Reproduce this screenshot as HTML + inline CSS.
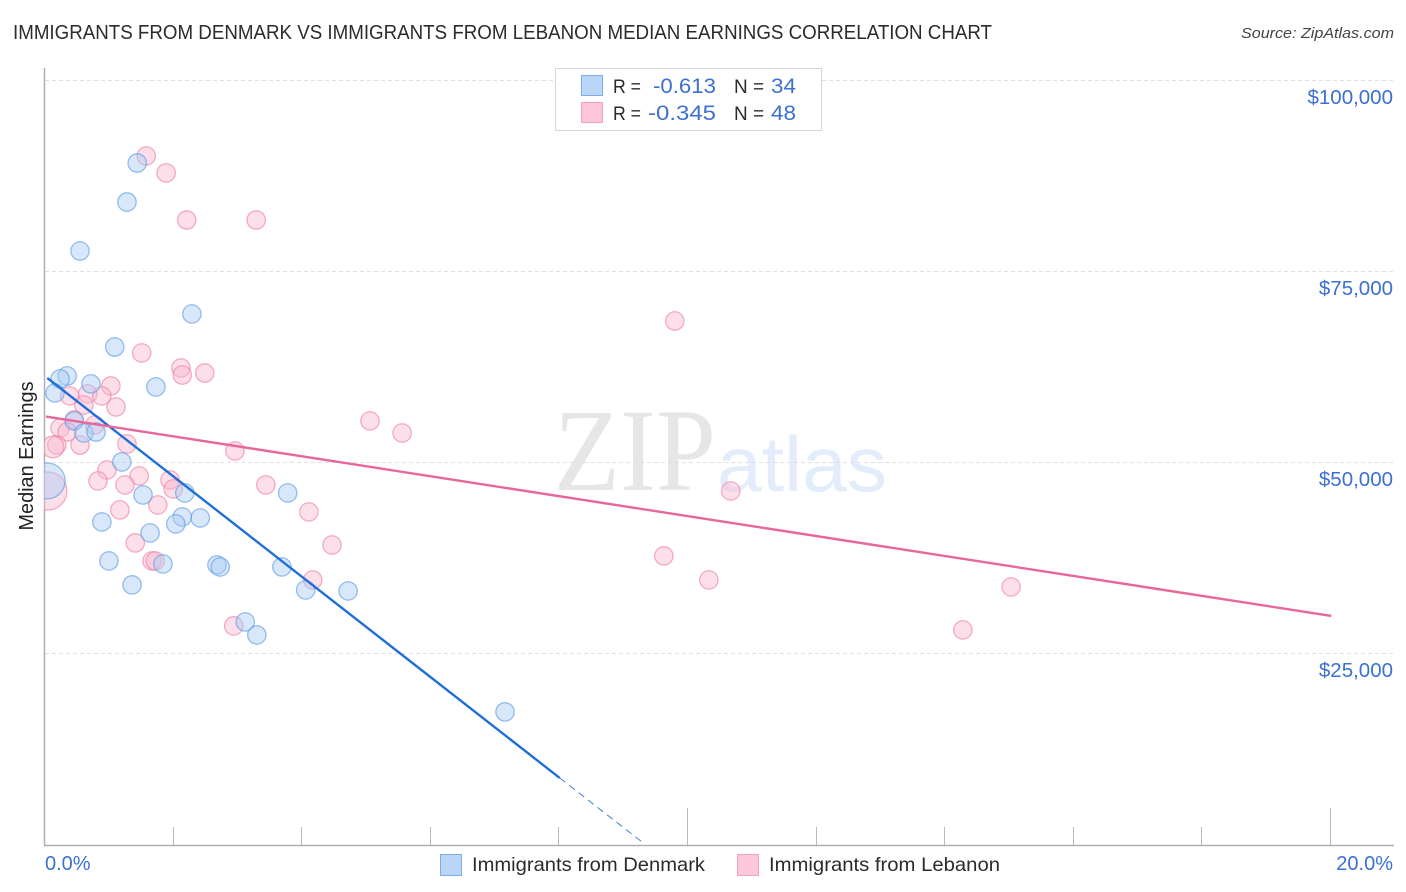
<!DOCTYPE html>
<html lang="en">
<head>
<meta charset="utf-8">
<title>Immigrants from Denmark vs Immigrants from Lebanon Median Earnings Correlation Chart</title>
<style>
html,body{margin:0;padding:0;background:#fff;width:1406px;height:892px;overflow:hidden}
svg{display:block;font-family:"Liberation Sans",sans-serif}
</style>
</head>
<body>
<svg id="chart" xmlns="http://www.w3.org/2000/svg" width="1406" height="892" viewBox="0 0 1406 892">
  <defs><clipPath id="plot-clip"><rect x="44" y="60" width="1350" height="785"/></clipPath></defs>
  <text x="13" y="39" font-size="20" fill="#2b2b2b" textLength="979" lengthAdjust="spacingAndGlyphs">IMMIGRANTS FROM DENMARK VS IMMIGRANTS FROM LEBANON MEDIAN EARNINGS CORRELATION CHART</text>
  <text x="1394" y="38" font-size="15" font-style="italic" fill="#444" text-anchor="end" textLength="153" lengthAdjust="spacingAndGlyphs">Source: ZipAtlas.com</text>
  <g>
    <text x="554" y="490" font-family="'Liberation Serif',serif" font-size="118" fill="#e6e6e6" textLength="162" lengthAdjust="spacingAndGlyphs">ZIP</text>
    <text x="717" y="491" font-size="78" fill="#e3ecfa" textLength="170" lengthAdjust="spacingAndGlyphs">atlas</text>
  </g>
  <g id="grid"></g>
  <g id="axes"></g>
  <g id="marks" clip-path="url(#plot-clip)"></g>
  <text transform="translate(33,456) rotate(-90)" font-size="20" fill="#222" text-anchor="middle" textLength="149" lengthAdjust="spacingAndGlyphs">Median Earnings</text>
  <g>
    <rect x="555.5" y="68.5" width="266" height="62" fill="#fff" stroke="#d6d6d6"/>
    <rect x="581.5" y="75.5" width="21" height="20" fill="#b9d5f7" stroke="#7fadea"/>
    <rect x="581.5" y="102.5" width="21" height="20" fill="#fcc8d9" stroke="#f3a0bd"/>
    <text x="613" y="93" font-size="19.5" fill="#2b2b2b" textLength="28" lengthAdjust="spacingAndGlyphs">R =</text>
    <text x="653" y="93" font-size="21.5" fill="#3c70d2" textLength="63" lengthAdjust="spacingAndGlyphs">-0.613</text>
    <text x="734" y="93" font-size="19.5" fill="#2b2b2b" textLength="30" lengthAdjust="spacingAndGlyphs">N =</text>
    <text x="771" y="93" font-size="21.5" fill="#3c70d2" textLength="25" lengthAdjust="spacingAndGlyphs">34</text>
    <text x="613" y="120" font-size="19.5" fill="#2b2b2b" textLength="28" lengthAdjust="spacingAndGlyphs">R =</text>
    <text x="648" y="120" font-size="21.5" fill="#3c70d2" textLength="68" lengthAdjust="spacingAndGlyphs">-0.345</text>
    <text x="734" y="120" font-size="19.5" fill="#2b2b2b" textLength="30" lengthAdjust="spacingAndGlyphs">N =</text>
    <text x="771" y="120" font-size="21.5" fill="#3c70d2" textLength="25" lengthAdjust="spacingAndGlyphs">48</text>
  </g>
  <g>
    <rect x="440.5" y="854.5" width="21" height="21" fill="#b9d5f7" stroke="#7fadea"/>
    <text x="472" y="871" font-size="19.5" fill="#2b2b2b" textLength="233" lengthAdjust="spacingAndGlyphs">Immigrants from Denmark</text>
    <rect x="737.5" y="854.5" width="21" height="21" fill="#fcc8d9" stroke="#f3a0bd"/>
    <text x="769" y="871" font-size="19.5" fill="#2b2b2b" textLength="231" lengthAdjust="spacingAndGlyphs">Immigrants from Lebanon</text>
  </g>
</svg>
<script>
// ---- chart data ----
const yTicks = [25000, 50000, 75000, 100000];
const yTickLabels = ["$25,000", "$50,000", "$75,000", "$100,000"];
const xTicks = [0, 2, 4, 6, 8, 10, 12, 14, 16, 18, 20];
const xEndLabels = ["0.0%", "20.0%"];

const denmarkShare = [1.45,1.29,0.56,2.30,1.10,0.36,0.25,0.17,0.73,1.74,0.47,0.62,0.81,1.21,1.54,2.19,3.79,0.90,2.43,2.15,2.05,1.65,1.01,1.85,2.69,2.74,1.37,3.70,4.07,4.73,3.13,3.31,7.17,0.05];
const denmarkEarnings = [89150,84050,77650,69420,65100,61310,60920,59090,60270,59880,55430,53860,53990,50070,45760,46020,46020,42230,42750,42880,41970,40790,37130,36740,36610,36350,34000,36350,33340,33210,29160,27460,17400,47590];
const denmarkWeight = [1,1,1,1,1,1,1,1,1,1,1,1,1,1,1,1,1,1,1,1,1,1,1,1,1,1,1,1,1,1,1,1,1,3.8];

const lebanonShare = [1.59,1.90,2.22,3.30,9.81,1.52,2.13,2.15,2.50,1.04,0.68,0.90,0.40,0.62,1.12,0.47,0.79,0.25,0.36,0.56,1.29,0.20,0.14,5.07,5.57,2.97,0.98,1.48,0.84,1.26,1.96,2.01,3.45,10.68,1.18,1.77,4.12,1.42,4.48,1.68,1.73,9.64,10.34,4.18,15.04,2.95,14.29,0.06];
const lebanonEarnings = [90070,87850,81700,81700,68500,64320,62360,61440,61700,60000,58960,58700,58700,57520,57260,55560,54910,54520,53990,52290,52430,52290,52030,55430,53860,51510,49030,48240,47590,47070,47720,46540,47070,46280,43800,44450,43540,39490,39220,37130,37130,37790,34650,34650,33735,28640,28115,46280];
const lebanonWeight = [1,1,1,1,1,1,1,1,1,1,1,1,1,1,1,1,1,1,1,1,1,1,1.4,1,1,1,1,1,1,1,1,1,1,1,1,1,1,1,1,1,1,1,1,1,1,1,1,4.3];

const denmarkTrendShare = [0.05, 8.02];
const denmarkTrendEarnings = [61050, 8770];
const denmarkProjectionShare = [8.02, 9.30];
const denmarkProjectionEarnings = [8770, 400];
const lebanonTrendShare = [0.03, 20.02];
const lebanonTrendEarnings = [56000, 29945];

// ---- axis functions ----
const NS = "http://www.w3.org/2000/svg";
const xScale = v => 44 + v * 64.3;
const yScale = v => 845 - v * 0.00765;
const radius = w => 9.2 * Math.sqrt(w);

function make(parent, tag, attrs) {
  const el = document.createElementNS(NS, tag);
  for (const k in attrs) el.setAttribute(k, attrs[k]);
  parent.appendChild(el);
  return el;
}

const grid = document.getElementById("grid");
const axes = document.getElementById("axes");
const marks = document.getElementById("marks");

// gridlines and y labels
yTicks.forEach((t, i) => {
  const y = Math.floor(yScale(t)) + 0.5;
  const line = make(grid, "line", {x1: 45, x2: 1394, y1: y, y2: y, stroke: "#e0e0e0", "stroke-width": 1, "stroke-dasharray": "4 3"});
  
  
  const label = make(axes, "text", {x: 1393, y: y + 23.5, "font-size": 20.5, fill: "#3c70d2", "text-anchor": "end"});
  label.textContent = yTickLabels[i];
  
  
});

// axis lines
const yAxisLine = make(axes, "line", {x1: 44.5, x2: 44.5, y1: 68, y2: 845.5, stroke: "#b0b0b0", "stroke-width": 1.5});


const xAxisLine = make(axes, "line", {x1: 44, x2: 1394, y1: 845.5, y2: 845.5, stroke: "#b0b0b0", "stroke-width": 1.5});



// x ticks
xTicks.forEach(t => {
  if (t === 0) return;
  const x = Math.round(xScale(t)) + 0.5;
  const top = t % 10 === 0 ? 808 : 827;
  const tick = make(axes, "line", {x1: x, x2: x, y1: top, y2: 845, stroke: "#b8b8b8", "stroke-width": 1});
  
  
});
const xStart = make(axes, "text", {x: 45, y: 870, "font-size": 20, fill: "#3c70d2"});
xStart.textContent = xEndLabels[0];


const xEnd = make(axes, "text", {x: 1393, y: 870, "font-size": 20, fill: "#3c70d2", "text-anchor": "end"});
xEnd.textContent = xEndLabels[1];



// points
function drawPoints(xs, ys, ws, fill, stroke, name) {
  xs.forEach((v, i) => {
    const c = make(marks, "circle", {cx: xScale(v), cy: yScale(ys[i]), r: radius(ws[i]), fill: fill, "fill-opacity": 0.45, stroke: stroke, "stroke-opacity": 0.65, "stroke-width": 1.3});
    
    
  });
}
drawPoints(lebanonShare, lebanonEarnings, lebanonWeight, "#f9b9ce", "#ee82a8", "lebanon-point");
drawPoints(denmarkShare, denmarkEarnings, denmarkWeight, "#a9cbf3", "#5f9de6", "denmark-point");

// trend lines
const denmarkLine = make(marks, "line", {x1: xScale(denmarkTrendShare[0]), y1: yScale(denmarkTrendEarnings[0]), x2: xScale(denmarkTrendShare[1]), y2: yScale(denmarkTrendEarnings[1]), stroke: "#1f6fd8", "stroke-width": 2.4});


const denmarkDash = make(marks, "line", {x1: xScale(denmarkProjectionShare[0]), y1: yScale(denmarkProjectionEarnings[0]), x2: xScale(denmarkProjectionShare[1]), y2: yScale(denmarkProjectionEarnings[1]), stroke: "#3f7fdc", "stroke-width": 1, "stroke-dasharray": "7 5"});


const lebanonLine = make(marks, "line", {x1: xScale(lebanonTrendShare[0]), y1: yScale(lebanonTrendEarnings[0]), x2: xScale(lebanonTrendShare[1]), y2: yScale(lebanonTrendEarnings[1]), stroke: "#e8679a", "stroke-width": 2.4});


</script>
</body>
</html>
